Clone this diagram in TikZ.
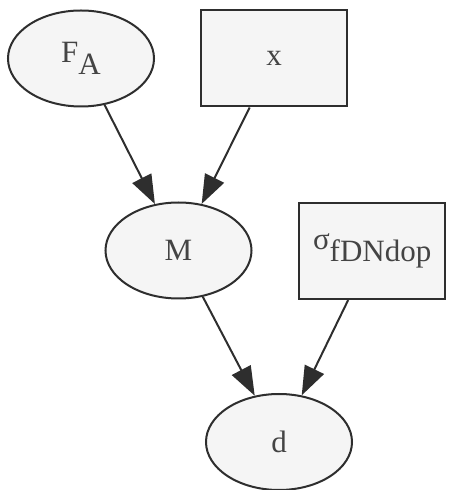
\documentclass[tikz,border=0pt]{standalone}
\usepackage{fontspec}
\setmainfont{Liberation Serif}
\usetikzlibrary{shapes.geometric,arrows.meta}
\definecolor{nodefill}{HTML}{F5F5F5}
\definecolor{edgecol}{HTML}{2E2E2E}
\definecolor{textcol}{HTML}{444444}
\newcommand{\lowsub}[1]{\raisebox{-12pt}{#1}}
\begin{document}
\begin{tikzpicture}[x=1pt,y=1pt,
  base/.style={draw=edgecol, line width=2pt, fill=nodefill, text=textcol,
    font=\fontsize{31}{35}\selectfont, inner sep=0pt,
    minimum width=146pt, minimum height=96pt},
  ell/.style={base, ellipse},
  box/.style={base, rectangle},
  edge/.style={draw=edgecol, line width=2pt,
    -{Triangle[length=29pt,width=21pt]}}]
\useasboundingbox (0,0) rectangle (457,490);
\node[ell] (FA) at (81,431.5) {F\lowsub{A}};
\node[box] (x) at (274,431.5) {x};
\node[ell] (M) at (178.5,239.5) {M};
\node[box, text width=118pt, align=right] (sig) at (372,239) {σ\lowsub{fDNdop}};
\node[ell] (d) at (279,48) {d};
\draw[edge] (FA) -- (M);
\draw[edge] (x) -- (M);
\draw[edge] (M) -- (d);
\draw[edge] (sig) -- (d);
\end{tikzpicture}
\end{document}
